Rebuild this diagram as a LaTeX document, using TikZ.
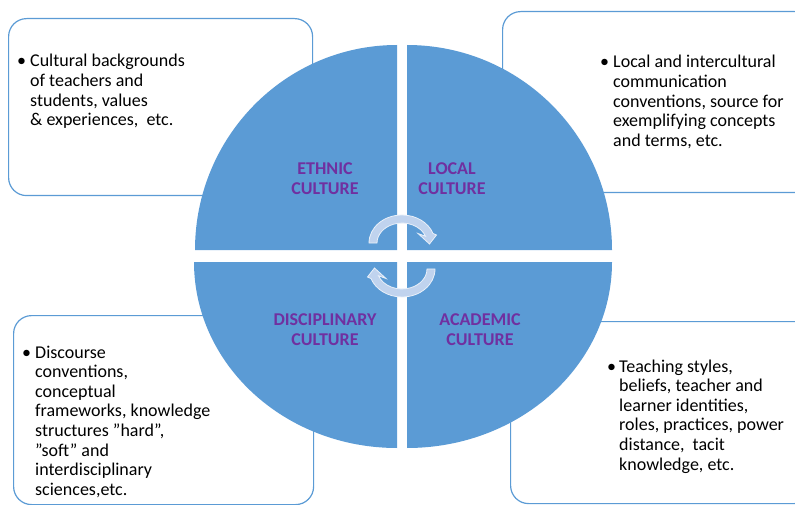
\documentclass[tikz,border=0pt]{standalone}
\usepackage{fontspec}
\setmainfont{Carlito}
\definecolor{qblue}{HTML}{5B9BD5}
\definecolor{qpurple}{HTML}{7030A0}
\definecolor{arrowfill}{HTML}{C0D3EE}
\definecolor{arrowline}{HTML}{E9F0F9}
\begin{document}
\begin{tikzpicture}[x=1pt,y=-1pt,
  infobox/.style={draw=qblue, line width=1.2pt, rounded corners=18pt, fill=white, anchor=north west, inner sep=0pt},
  quad/.style={fill=qblue},
  bodytext/.style={font=\fontsize{18}{19.6}\selectfont, inner sep=0pt, anchor=base west},
  cultlabel/.style={font=\fontsize{18}{20}\selectfont\bfseries, text=qpurple, inner sep=0pt, anchor=base},
  cyclearrow/.style={fill=arrowfill, draw=arrowline, line width=0.8pt}]
\useasboundingbox (0,0) rectangle (795,505);
\clip (0,0) rectangle (795,505);
% boxes
\node[infobox, minimum width=304pt, minimum height=177pt] (boxTL) at (8,18) {};
\node[infobox, minimum width=310pt, minimum height=181pt] (boxTR) at (502,11) {};
\node[infobox, minimum width=300pt, minimum height=189pt] (boxBL) at (13,315) {};
\node[infobox, minimum width=302pt, minimum height=182pt] (boxBR) at (510,321) {};
% quadrants
\fill[quad] (397,250) -- (195,250) arc[start angle=180, end angle=270, x radius=202, y radius=205] -- cycle;
\fill[quad] (407,250) -- (407,45) arc[start angle=270, end angle=360, x radius=205, y radius=205] -- cycle;
\fill[quad] (397,262) -- (194,262) arc[start angle=180, end angle=90, x radius=203, y radius=186] -- cycle;
\fill[quad] (407,262) -- (612,262) arc[start angle=0, end angle=90, x radius=205, y radius=186] -- cycle;
% cycle arrows
\path[cyclearrow] (369,243) arc[start angle=180, end angle=340, x radius=33, y radius=28]
  -- (436.5,235) -- (429.5,244) -- (418,233.5) -- (425.5,236.2)
  arc[start angle=340, end angle=180, x radius=25, y radius=20] -- cycle;
\begin{scope}[rotate around={180:(402,256)}]
\path[cyclearrow] (369,243) arc[start angle=180, end angle=340, x radius=33, y radius=28]
  -- (436.5,235) -- (429.5,244) -- (418,233.5) -- (425.5,236.2)
  arc[start angle=340, end angle=180, x radius=25, y radius=20] -- cycle;
\end{scope}
% culture labels
\node[cultlabel] (ethnic) at (325,175) {\begin{tabular}[t]{@{}c@{}}ETHNIC\\CULTURE\end{tabular}};
\node[cultlabel] (local) at (452,175) {\begin{tabular}[t]{@{}c@{}}LOCAL\\CULTURE\end{tabular}};
\node[cultlabel] (disc) at (325,325) {\begin{tabular}[t]{@{}c@{}}DISCIPLINARY\\CULTURE\end{tabular}};
\node[cultlabel] (acad) at (480,325) {\begin{tabular}[t]{@{}c@{}}ACADEMIC\\CULTURE\end{tabular}};
% bullets and texts
\node[bodytext] (bTL) at (17,67) {•};
\node[bodytext] (tTL) at (30,67) {\parbox[t]{270pt}{\raggedright Cultural backgrounds\\of teachers and\\students, values\\\& experiences,~ etc.}};
\node[bodytext] (bTR) at (600,68) {•};
\node[bodytext] (tTR) at (613,68) {\parbox[t]{180pt}{\raggedright Local and intercultural\\communication\\conventions, source for\\exemplifying concepts\\and terms, etc.}};
\node[bodytext] (bBL) at (22,358) {•};
\node[bodytext] (tBL) at (35,358) {\parbox[t]{270pt}{\raggedright Discourse\\conventions,\\conceptual\\frameworks, knowledge\\structures ”hard”,\\”soft” and\\interdisciplinary\\sciences,etc.}};
\node[bodytext] (bBR) at (607,372) {•};
\node[bodytext] (tBR) at (619,372) {\parbox[t]{180pt}{\raggedright Teaching styles,\\beliefs, teacher and\\learner identities,\\roles, practices, power\\distance,~ tacit\\knowledge, etc.}};
\end{tikzpicture}
\end{document}
